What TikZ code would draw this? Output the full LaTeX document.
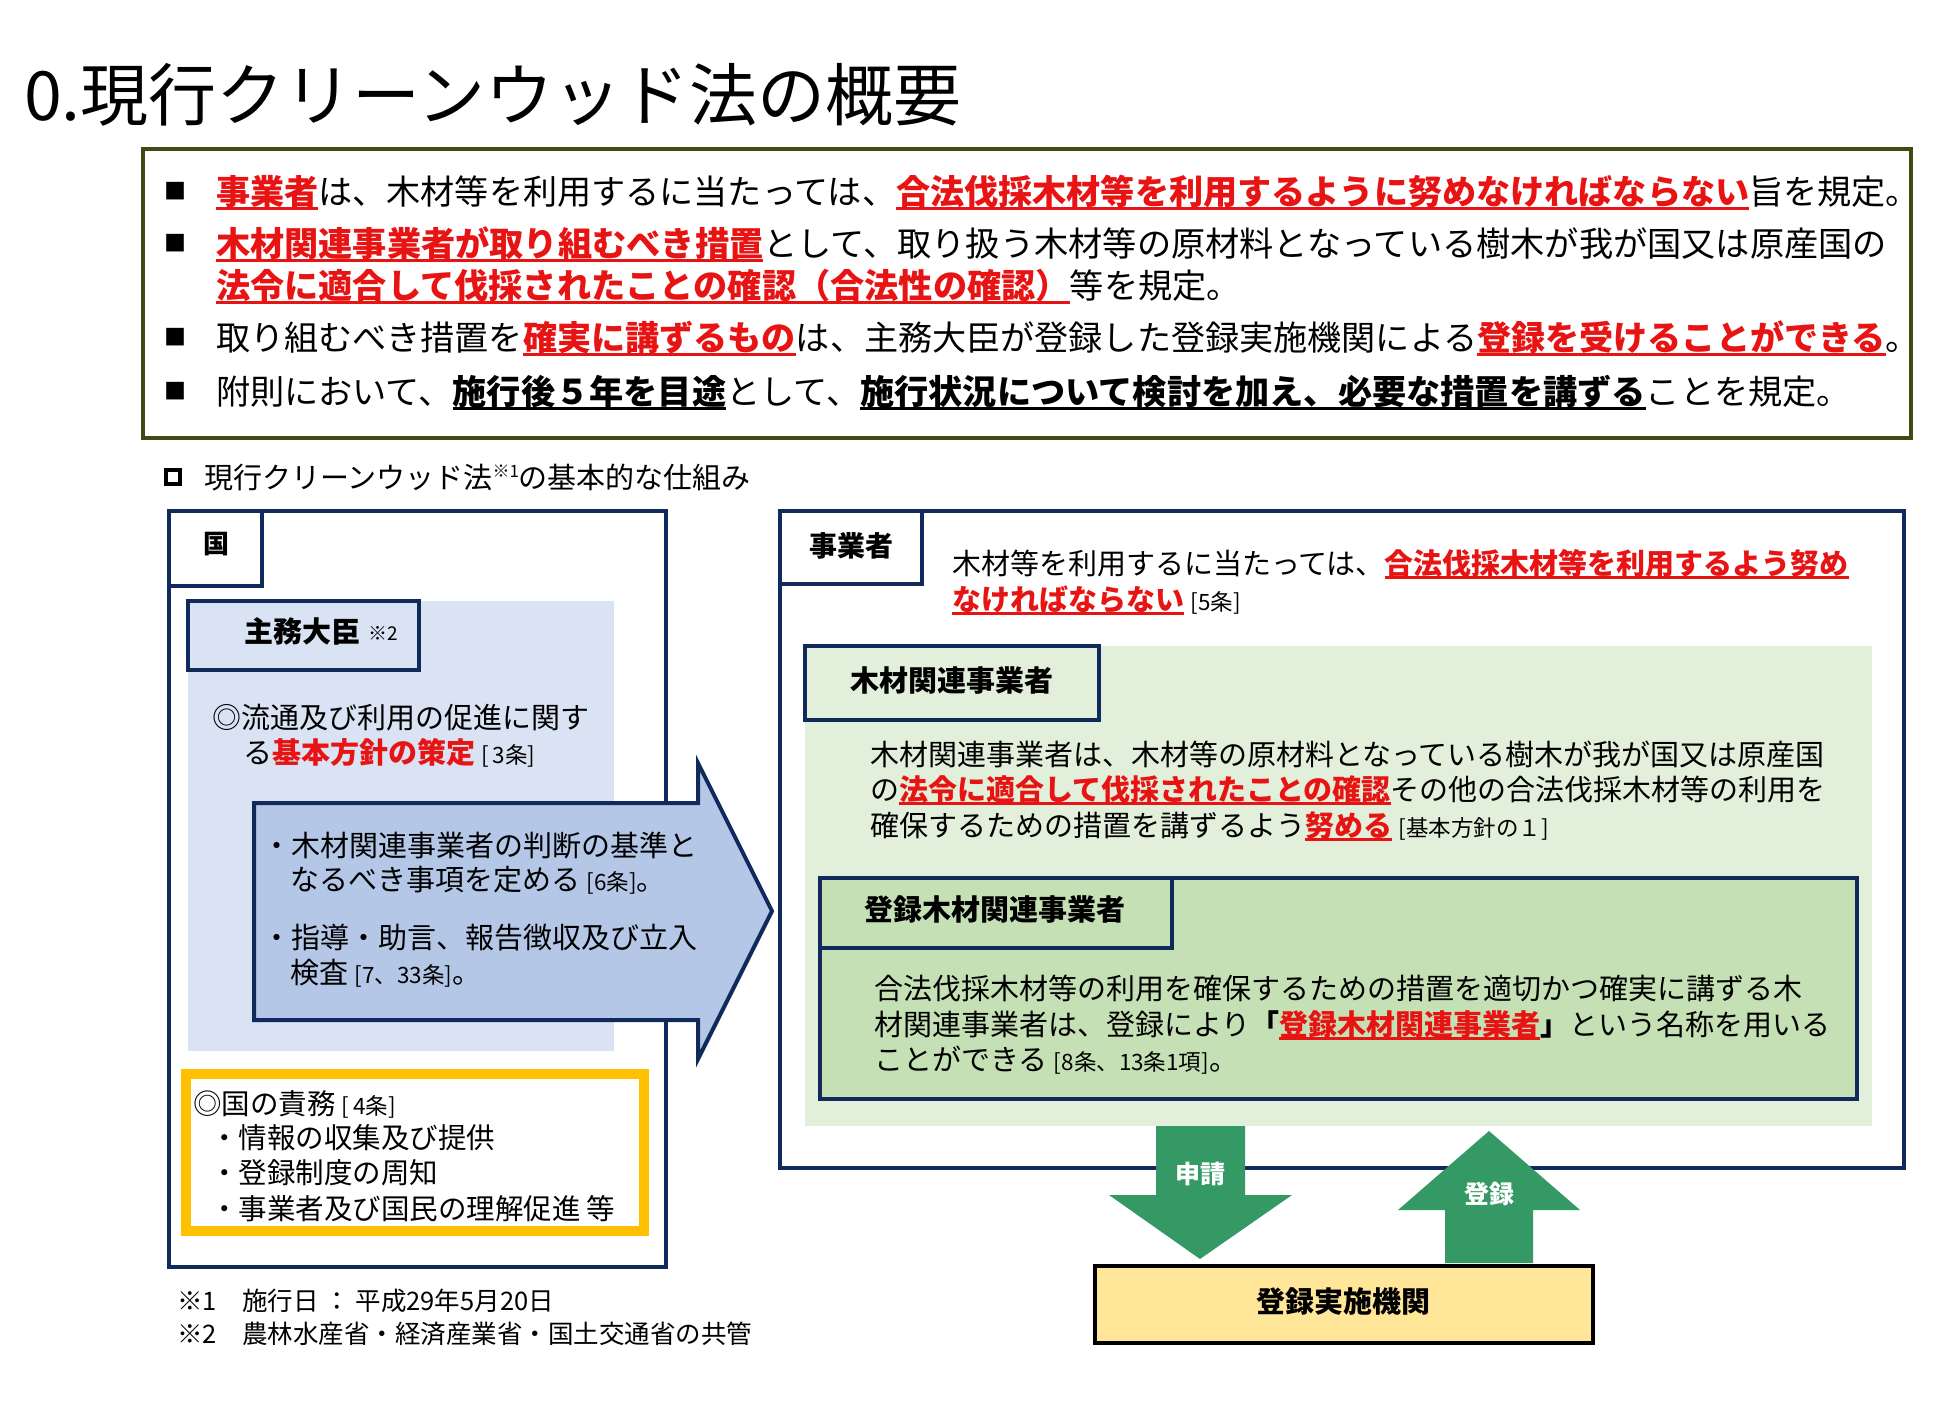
\documentclass[tikz,border=0pt]{standalone}
\usepackage{fontspec}
\setmainfont{Noto Sans CJK JP}
\usepackage{graphicx}
\definecolor{navy}{RGB}{16,42,92}
\definecolor{olive}{RGB}{62,76,20}
\definecolor{myred}{RGB}{232,20,20}
\definecolor{pblue}{RGB}{218,227,243}
\definecolor{ablue}{RGB}{180,199,231}
\definecolor{pgreen}{RGB}{226,239,218}
\definecolor{mgreen}{RGB}{197,224,180}
\definecolor{gold}{RGB}{255,192,0}
\definecolor{lyellow}{RGB}{255,230,153}
\definecolor{agreen}{RGB}{53,153,102}
\newsavebox\ulbox
\newcommand\myul[1]{\sbox\ulbox{#1}\rlap{\raisebox{-0.17em}[0pt][0pt]{\rule{\wd\ulbox}{0.085em}}}\usebox\ulbox}
\newcommand\redu[1]{{\color{myred}\bfseries\myul{#1}}}
\newcommand\blku[1]{{\bfseries\myul{#1}}}
\newcommand\redb[1]{{\color{myred}\bfseries #1}}
\newcommand\smb[1]{{\fontsize{22.5}{22.5}\selectfont #1}}
\newcommand\fitw[2]{\resizebox{#1pt}{\height}{#2}}
\begin{document}
\begin{tikzpicture}[x=1pt,y=-1pt,
  every node/.style={inner sep=0pt,outer sep=0pt},
  panel/.style={anchor=north west},
  nv/.style={draw=navy,line width=4pt},
  tl/.style={anchor=base west},
  lb/.style={anchor=base},
  f34/.style={font=\fontsize{34}{40}\selectfont},
  f29/.style={font=\fontsize{29}{34}\selectfont},
  f285/.style={font=\fontsize{28.5}{34}\selectfont},
  f255/.style={font=\fontsize{25.5}{30}\selectfont},
  b29/.style={font=\fontsize{29}{34}\selectfont\bfseries},
  bul/.style={anchor=base west,font=\fontsize{22}{22}\selectfont}]
\fill[white] (0,0) rectangle (1936,1419);
\useasboundingbox (0,0) rectangle (1936,1419);

% title
\node[tl,font=\fontsize{68}{80}\selectfont] (title) at (24,120) {0.現行クリーンウッド法の概要};

% top summary box
\node[panel,draw=olive,line width=4pt,minimum width=1768pt,minimum height=289pt] (topbox) at (143,149) {};
\node[bul] (bul1) at (164,199) {■};
\node[bul] (bul2) at (164,251) {■};
\node[bul] (bul3) at (164,345) {■};
\node[bul] (bul4) at (164,399) {■};
\node[tl,f34] (t1) at (216,204) {\fitw{1704}{\redu{事業者}は、木材等を利用するに当たっては、\redu{合法伐採木材等を利用するように努めなければならない}旨を規定。}};
\node[tl,f34] (t2) at (216,256) {\fitw{1671}{\redu{木材関連事業者が取り組むべき措置}として、取り扱う木材等の原材料となっている樹木が我が国又は原産国の}};
\node[tl,f34] (t3) at (216,298) {\fitw{1025}{\redu{法令に適合して伐採されたことの確認（合法性の確認）}等を規定。}};
\node[tl,f34] (t4) at (216,350) {\fitw{1704}{取り組むべき措置を\redu{確実に講ずるもの}は、主務大臣が登録した登録実施機関による\redu{登録を受けることができる}。}};
\node[tl,f34] (t5) at (216,404) {\fitw{1635}{附則において、\blku{施行後５年を目途}として、\blku{施行状況について検討を加え、必要な措置を講ずる}ことを規定。}};

% subtitle
\node[draw=black,line width=3.5pt,minimum size=14pt] (sq) at (173,477) {};
\node[tl,f29] (sub) at (204,488) {現行クリーンウッド法\raisebox{0.35em}{\fontsize{17}{17}\selectfont ※1}の基本的な仕組み};

% left: 国
\node[panel,nv,fill=white,minimum width=497pt,minimum height=756pt] (kuni) at (169,511) {};
\node[panel,nv,fill=white,minimum width=93pt,minimum height=75pt] (kunitab) at (169,511) {};
\node[lb,font=\fontsize{26}{26}\selectfont\bfseries] (kunilab) at (216,553) {国};
\node[panel,fill=pblue,minimum width=426pt,minimum height=450pt] (shumu) at (188,601) {};
\node[panel,nv,fill=pblue,minimum width=231pt,minimum height=69pt] (shumutab) at (188,601) {};
\node[tl,b29] (shumulab) at (244,642) {主務大臣\hspace{8pt}{\mdseries\raisebox{2pt}{\fontsize{19}{19}\selectfont ※2}}};
\node[tl,f29] (k1) at (212,728) {◎流通及び利用の促進に関す};
\node[tl,f29] (k2) at (243,763) {る\redb{基本方針の策定}\ \smb{[\,3条]}};

% big blue arrow
\draw[fill=ablue,draw=navy,line width=4pt,line join=miter]
  (254,803) -- (698,803) -- (698,763) -- (772,911) -- (698,1059) -- (698,1020) -- (254,1020) -- cycle;
\node[tl,f29] (a1) at (262,856) {・木材関連事業者の判断の基準と};
\node[tl,f29] (a2) at (290,890) {なるべき事項を定める\ \smb{[6条]}。};
\node[tl,f29] (a3) at (262,948) {・指導・助言、報告徴収及び立入};
\node[tl,f29] (a4) at (290,983) {検査\ \smb{[7、33条]}。};

% yellow box
\node[panel,draw=gold,line width=10pt,fill=white,minimum width=458pt,minimum height=157pt] (sekimu) at (186,1074) {};
\node[tl,f285] (y1) at (193,1114) {◎国の責務\ \smb{[\,4条]}};
\node[tl,f285] (y2) at (210,1148) {・情報の収集及び提供};
\node[tl,f285] (y3) at (210,1183) {・登録制度の周知};
\node[tl,f285] (y4) at (210,1219) {・事業者及び国民の理解促進 等};

% footnotes
\node[tl,f255] (fn1) at (177,1310) {※1　施行日 ： 平成29年5月20日};
\node[tl,f255] (fn2) at (177,1343) {※2　農林水産省・経済産業省・国土交通省の共管};

% right: 事業者
\node[panel,nv,fill=white,minimum width=1124pt,minimum height=657pt] (jigyo) at (780,511) {};
\node[panel,nv,fill=white,minimum width=142pt,minimum height=73pt] (jigyotab) at (780,511) {};
\node[lb,font=\fontsize{28}{28}\selectfont\bfseries] (jigyolab) at (851,556) {事業者};
\node[tl,f29] (r1) at (952,574) {木材等を利用するに当たっては、\redu{合法伐採木材等を利用するよう努め}};
\node[tl,f29] (r2) at (952,610) {\redu{なければならない}\ \smb{[5条]}};

\node[panel,fill=pgreen,minimum width=1067pt,minimum height=480pt] (mokuzai) at (805,646) {};
\node[panel,nv,fill=pgreen,minimum width=294pt,minimum height=74pt] (mokuzaitab) at (805,646) {};
\node[lb,b29] (mokuzailab) at (952,691) {木材関連事業者};
\node[tl,f29] (p1) at (870,765) {木材関連事業者は、木材等の原材料となっている樹木が我が国又は原産国};
\node[tl,f29] (p2) at (870,800) {の\redu{法令に適合して伐採されたことの確認}その他の合法伐採木材等の利用を};
\node[tl,f29] (p3) at (870,836) {確保するための措置を講ずるよう\redu{努める}\ \smb{[基本方針の１]}};

\node[panel,nv,fill=mgreen,minimum width=1037pt,minimum height=221pt] (toroku) at (820,878) {};
\node[panel,nv,fill=mgreen,minimum width=352pt,minimum height=70pt] (torokutab) at (820,878) {};
\node[lb,b29] (torokulab) at (995,920) {登録木材関連事業者};
\node[tl,f29] (q1) at (874,999) {合法伐採木材等の利用を確保するための措置を適切かつ確実に講ずる木};
\node[tl,f29] (q2) at (874,1035) {材関連事業者は、登録により{\bfseries「}\redu{登録木材関連事業者}{\bfseries」}という名称を用いる};
\node[tl,f29] (q3) at (874,1070) {ことができる\ \smb{[8条、13条1項]}。};

% green arrows
\fill[agreen] (1156,1126) -- (1245,1126) -- (1245,1195) -- (1292,1195) -- (1200,1259) -- (1109,1195) -- (1156,1195) -- cycle;
\fill[agreen] (1445,1263) -- (1533,1263) -- (1533,1210) -- (1580,1210) -- (1489,1131) -- (1398,1210) -- (1445,1210) -- cycle;
\node[lb,font=\fontsize{25}{25}\selectfont\bfseries,text=white] (shinsei) at (1200,1183) {申請};
\node[lb,font=\fontsize{25}{25}\selectfont\bfseries,text=white] (torokuarr) at (1489,1203) {登録};

% 登録実施機関
\node[panel,draw=black,line width=4pt,fill=lyellow,minimum width=498pt,minimum height=77pt] (kikan) at (1095,1266) {};
\node[lb,b29] (kikanlab) at (1343,1312) {登録実施機関};
\end{tikzpicture}
\end{document}
